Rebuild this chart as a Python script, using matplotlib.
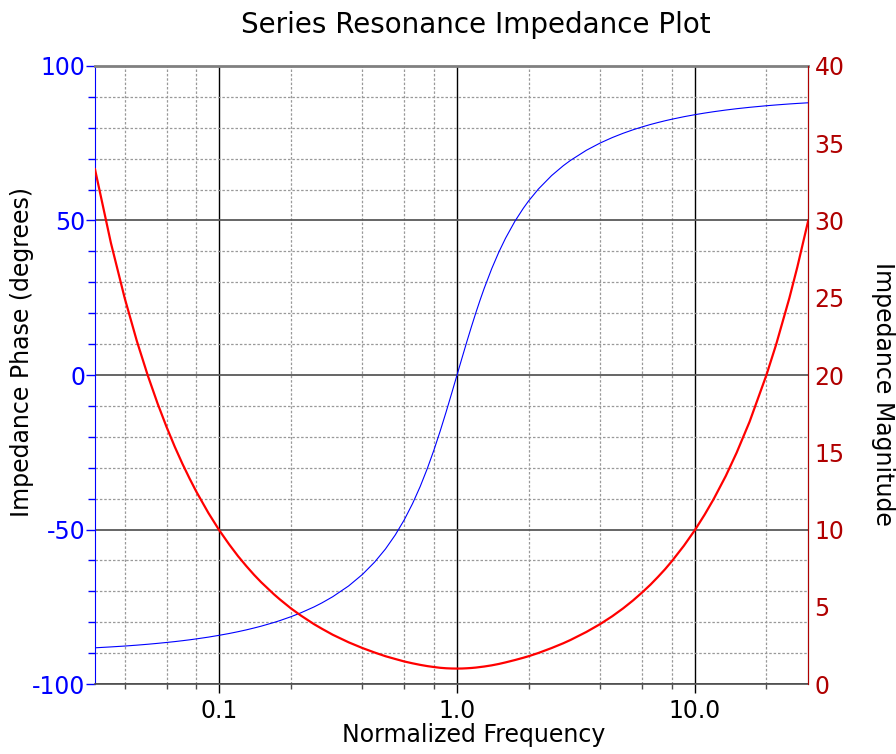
import matplotlib
matplotlib.use("Agg")
import matplotlib.pyplot as plt
from matplotlib.ticker import FixedLocator, NullFormatter, FixedFormatter

# Normalized frequency samples (log spaced by hand)
freq = [0.03, 0.035, 0.04, 0.045, 0.05, 0.055, 0.06, 0.065, 0.07, 0.075,
        0.08, 0.09, 0.1, 0.11, 0.12, 0.13, 0.14, 0.15, 0.17, 0.18, 0.2,
        0.22, 0.25, 0.27, 0.3, 0.35, 0.4, 0.45, 0.5, 0.55, 0.6, 0.65, 0.7,
        0.75, 0.8, 0.85, 0.9, 0.95, 1.0, 1.05, 1.1, 1.15, 1.2, 1.25, 1.3,
        1.4, 1.5, 1.6, 1.75, 1.9, 2.0, 2.2, 2.5, 2.8, 3.0, 3.5, 4.0, 4.5,
        5.0, 5.5, 6.0, 6.5, 7.0, 7.5, 8.0, 9.0, 10.0, 11.0, 12.0, 13.5,
        15.0, 17.0, 20.0, 22.0, 25.0, 27.0, 30.0]

# Impedance phase in degrees
phase = [-88.28, -87.99, -87.71, -87.42, -87.13, -86.84, -86.55, -86.27,
         -85.98, -85.69, -85.40, -84.82, -84.23, -83.65, -83.06, -82.47,
         -81.87, -81.28, -80.07, -79.46, -78.23, -76.98, -75.07, -73.76,
         -71.75, -68.26, -64.54, -60.56, -56.31, -51.74, -46.85, -41.62,
         -36.08, -30.26, -24.23, -18.08, -11.92, -5.86, 0.0, 5.57, 10.81,
         15.66, 20.14, 24.23, 27.96, 34.44, 39.81, 44.27, 49.69, 53.94,
         56.31, 60.19, 64.54, 67.74, 69.44, 72.72, 75.07, 76.84, 78.23,
         79.35, 80.27, 81.05, 81.70, 82.27, 82.76, 83.58, 84.23, 84.76,
         85.20, 85.74, 86.17, 86.62, 87.13, 87.39, 87.71, 87.88, 88.09]

# Impedance magnitude
magnitude = [33.32, 28.55, 24.98, 22.20, 19.98, 18.16, 16.64, 15.35, 14.25,
             13.30, 12.46, 11.07, 9.95, 9.04, 8.27, 7.63, 7.07, 6.59, 5.80,
             5.47, 4.90, 4.44, 3.88, 3.58, 3.19, 2.70, 2.33, 2.04, 1.80,
             1.62, 1.46, 1.34, 1.24, 1.16, 1.10, 1.05, 1.02, 1.005, 1.00,
             1.005, 1.02, 1.039, 1.065, 1.10, 1.132, 1.21, 1.30, 1.40, 1.55,
             1.70, 1.80, 2.01, 2.33, 2.64, 2.85, 3.37, 3.88, 4.39, 4.90,
             5.41, 5.92, 6.42, 6.93, 7.43, 7.94, 8.95, 9.95, 10.96, 11.96,
             13.46, 14.97, 16.97, 19.98, 21.98, 24.98, 26.98, 29.98]

x_major = [0.1, 1.0, 10.0]
x_major_labels = ["0.1", "1.0", "10.0"]
x_minor = [0.04, 0.06, 0.08, 0.2, 0.4, 0.6, 0.8, 2, 4, 6, 8, 20]
phase_ticks = [-100, -50, 0, 50, 100]
phase_labels = ["-100", "-50", "0", "50", "100"]
mag_ticks = [0, 5, 10, 15, 20, 25, 30, 35, 40]

blue = "#0000ff"
dark_red = "#b00000"

fig = plt.figure(figsize=(8.96, 7.54), dpi=100)
ax = fig.add_axes([0.106, 0.0928, 0.796, 0.8197])
ax2 = ax.twinx()

ax.semilogx(freq, phase, color=blue, lw=0.8, zorder=3)
ax2.semilogx(freq, magnitude, color="red", lw=1.6, zorder=3)

ax.set_xlim(0.03, 30)
ax.set_ylim(-100, 100)
ax2.set_ylim(0, 40)

ax.xaxis.set_major_locator(FixedLocator(x_major))
ax.xaxis.set_major_formatter(FixedFormatter(x_major_labels))
ax.xaxis.set_minor_locator(FixedLocator(x_minor))
ax.xaxis.set_minor_formatter(NullFormatter())

ax.yaxis.set_major_locator(FixedLocator(phase_ticks))
ax.yaxis.set_major_formatter(FixedFormatter(phase_labels))
ax.yaxis.set_minor_locator(FixedLocator(list(range(-90, 100, 10))))

ax2.yaxis.set_major_locator(FixedLocator(mag_ticks))

# grid lines
ax.grid(which="minor", axis="both", color="0.6", ls=(0, (2, 1.5)), lw=0.9)
ax.grid(which="major", axis="x", color="black", ls="-", lw=1.0)
ax.grid(which="major", axis="y", color="0.35", ls="-", lw=1.3)
ax.set_axisbelow(True)

# ticks and tick labels
ax.tick_params(axis="x", which="major", direction="out", length=6.5, width=1,
               colors="black", labelsize=17, pad=4)
ax.tick_params(axis="x", which="minor", direction="out", length=3.6, width=1,
               color="0.3")
ax.tick_params(axis="y", which="major", direction="out", length=6.5, width=1,
               colors=blue, labelsize=17, pad=0.5)
ax.tick_params(axis="y", which="minor", direction="out", length=5, width=1,
               color=blue)
ax2.tick_params(axis="y", which="both", length=0, colors=dark_red,
                labelsize=17, pad=4.5)

# spines
ax.spines["left"].set_color(blue)
ax.spines["top"].set_color("0.5")
ax.spines["top"].set_linewidth(2)
ax.spines["bottom"].set_color("0.3")
ax.spines["bottom"].set_linewidth(1.2)
ax2.spines["right"].set_color(dark_red)
ax2.spines["top"].set_visible(False)
ax2.spines["left"].set_visible(False)
ax2.spines["bottom"].set_visible(False)

# title and axis labels
ax.set_title("Series Resonance Impedance Plot", fontsize=20, pad=24, x=0.534)
ax.set_xlabel("Normalized Frequency", fontsize=17)
ax.xaxis.set_label_coords(0.5305, -0.0625)
ax.xaxis.label.set(ha="center", va="top")

ax.set_ylabel("Impedance Phase (degrees)", fontsize=17)
ax.yaxis.set_label_coords(-0.1025, 0.537)
ax.yaxis.label.set(ha="center", va="center", rotation_mode="default")

ax2.set_ylabel("Impedance Magnitude", fontsize=17, rotation=-90)
ax2.yaxis.set_label_coords(1.1045, 0.470)
ax2.yaxis.label.set(ha="center", va="center", rotation_mode="default")

fig.savefig("out.png", dpi=100)
